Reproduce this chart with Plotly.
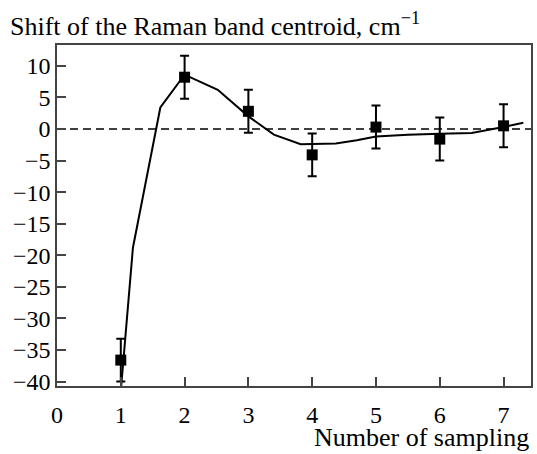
import plotly.graph_objects as go

# Measured points (markers with error bars)
sample_x = [1, 2, 3, 4, 5, 6, 7]
sample_y = [-36.6, 8.2, 2.8, -4.1, 0.3, -1.6, 0.5]
sample_err = [3.4, 3.4, 3.4, 3.4, 3.4, 3.4, 3.4]

# Smooth curve (solid line)
curve_x = [1.0, 1.19, 1.62, 2.0, 2.52, 3.0, 3.4, 3.82, 4.37, 4.7, 5.0, 5.5, 6.0, 6.5, 7.0, 7.31]
curve_y = [-41.5, -18.8, 3.4, 8.6, 6.2, 2.0, -0.9, -2.4, -2.3, -1.8, -1.2, -0.9, -0.75, -0.65, 0.3, 1.0]

x_ticks = [0, 1, 2, 3, 4, 5, 6, 7]
y_ticks = [10, 5, 0, -5, -10, -15, -20, -25, -30, -35, -40]

FONT = "Liberation Serif"

fig = go.Figure()
fig.add_trace(go.Scatter(
    x=[0, 7.43], y=[0, 0], mode="lines",
    line=dict(color="black", width=1.6, dash="8px,5px"),
    hoverinfo="skip", showlegend=False))
fig.add_trace(go.Scatter(
    x=curve_x, y=curve_y, mode="lines",
    line=dict(color="black", width=2), showlegend=False))
fig.add_trace(go.Scatter(
    x=sample_x, y=sample_y, mode="markers",
    marker=dict(symbol="square", size=11, color="black"),
    error_y=dict(type="data", array=sample_err, visible=True,
                 color="black", thickness=2, width=4.5),
    showlegend=False))

fig.update_layout(
    width=537, height=454,
    margin=dict(l=57, r=4, t=45, b=68),
    paper_bgcolor="white", plot_bgcolor="white",
    font=dict(family=FONT, size=24, color="black"),
    xaxis=dict(range=[0, 7.43], tickvals=x_ticks, ticks="inside", ticklen=9,
               tickwidth=1.5, tickcolor="#444", showgrid=False, zeroline=False,
               showline=True, linecolor="#444", linewidth=1.5, mirror=True,
               ticklabelstandoff=6,
               tickfont=dict(family=FONT, size=24)),
    yaxis=dict(range=[-40.7, 13.3], tickvals=y_ticks, ticks="inside", ticklen=9,
               tickwidth=1.5, tickcolor="#444", showgrid=False, zeroline=False,
               showline=True, linecolor="#444", linewidth=1.5, mirror=True,
               tickfont=dict(family=FONT, size=24)),
    annotations=[
        dict(text="Shift of the Raman band centroid, cm<sup>−1</sup>",
             xref="paper", yref="paper", x=-49/476, y=1 + 2/341,
             xanchor="left", yanchor="bottom", showarrow=False,
             font=dict(family=FONT, size=26)),
        dict(text="Number of sampling",
             xref="paper", yref="paper", x=1, y=-(454 - 386)/341,
             xanchor="right", yanchor="bottom", showarrow=False,
             font=dict(family=FONT, size=26)),
    ],
)

fig.write_html("out.html")
